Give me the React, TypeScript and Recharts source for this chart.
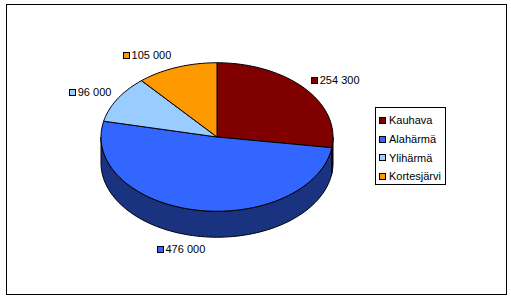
import { PieChart, Pie, Legend } from "recharts"

const regions = ["Kauhava", "Alahärmä", "Ylihärmä", "Kortesjärvi"]
const population = [254300, 476000, 96000, 105000]
const valueLabels = ["254 300", "476 000", "96 000", "105 000"]
const topColors = ["#800000", "#3366FF", "#99CCFF", "#FF9900"]
const sideColors = ["#400000", "#1A3380", "#4D6680", "#804D00"]

const data = regions.map((name, i) => ({
  name,
  value: population[i],
  fill: topColors[i],
  side: sideColors[i],
}))

const FONT = '"Liberation Sans", Arial, sans-serif'
// flattening of the pie and the height of its wall, relative to the radius
const TILT = 0.64
const DEPTH = 0.224
const RAD = Math.PI / 180

function rim(cx: number, cy: number, rx: number, ry: number, deg: number, dy = 0) {
  return [cx + rx * Math.cos(deg * RAD), cy - ry * Math.sin(deg * RAD) + dy]
}

function arc(cx: number, cy: number, rx: number, ry: number, from: number, to: number, dy = 0) {
  const n = Math.max(2, Math.ceil(Math.abs(to - from) / 2))
  const pts: number[][] = []
  for (let i = 0; i <= n; i++) pts.push(rim(cx, cy, rx, ry, from + ((to - from) * i) / n, dy))
  return pts
}

const toPath = (pts: number[][]) =>
  "M" + pts.map((p) => p[0].toFixed(2) + "," + p[1].toFixed(2)).join("L") + "Z"

function Slice3D(props: any) {
  const { cx, cy, outerRadius, startAngle, endAngle } = props
  const fill = props.fill ?? props.payload?.fill
  const side = props.side ?? props.payload?.side
  const rx = outerRadius
  const ry = outerRadius * TILT
  const d = outerRadius * DEPTH
  const hiA = Math.max(startAngle, endAngle)
  const loA = Math.min(startAngle, endAngle)

  // wall: only the part of the rim that faces the viewer (lower half)
  const walls: string[] = []
  for (let k = -2; k <= 1; k++) {
    const lo = Math.max(loA, -180 + 360 * k)
    const hi = Math.min(hiA, 360 * k)
    if (lo < hi) {
      walls.push(toPath([...arc(cx, cy, rx, ry, hi, lo), ...arc(cx, cy, rx, ry, lo, hi, d)]))
    }
  }
  const top = toPath([[cx, cy], ...arc(cx, cy, rx, ry, startAngle, endAngle)])

  return (
    <g>
      {walls.map((w, i) => (
        <path key={i} d={w} fill={side} stroke="#000" strokeWidth={1} strokeLinejoin="round" />
      ))}
      <path d={top} fill={fill} stroke="#000" strokeWidth={1} strokeLinejoin="round" />
    </g>
  )
}

function textWidth(s: string) {
  let w = 0
  for (const ch of s) w += ch === " " ? 3.06 : 6.12
  return w
}

function ValueLabel(props: any) {
  const { cx, cy, midAngle, outerRadius, index } = props
  const rx = outerRadius
  const ry = outerRadius * TILT
  const d = outerRadius * DEPTH
  const c = Math.cos(midAngle * RAD)
  const s = Math.sin(midAngle * RAD)
  const y = cy - (ry + 13) * s + (s < 0 ? d : 0)
  const text = valueLabels[index]
  const blockW = textWidth(text) + 9
  let left: number
  if (Math.abs(c) < 0.5) {
    // labels near the top or bottom are centred further out
    left = cx + rx * 1.74 * c - blockW / 2
  } else if (c >= 0) {
    left = cx + rx * c + 6
  } else {
    left = cx + rx * c - 6 - blockW
  }
  return (
    <g>
      <rect x={Math.round(left) + 0.5} y={Math.round(y - 3) + 0.5} width={6} height={6} fill={topColors[index]} stroke="#000" strokeWidth={1} />
      <text x={left + 9} y={y + 4} fontFamily={FONT} fontSize={11} fill="#000">
        {text}
      </text>
    </g>
  )
}

function LegendBox() {
  return (
    <div
      style={{
        boxSizing: "border-box",
        width: 71,
        height: 78,
        border: "1px solid #000",
        background: "#fff",
        padding: "3px 0 0 3px",
        fontFamily: FONT,
        fontSize: 11,
        color: "#000",
      }}
    >
      {regions.map((r, i) => (
        <div key={r} style={{ display: "flex", alignItems: "center", height: 18.7, whiteSpace: "nowrap" }}>
          <span
            style={{
              display: "inline-block",
              boxSizing: "border-box",
              width: 7,
              height: 7,
              border: "1px solid #000",
              background: topColors[i],
              marginRight: 3,
            }}
          />
          {r}
        </div>
      ))}
    </div>
  )
}

export default function App() {
  return (
    <div style={{ position: "absolute", left: 0, top: 0, width: 511, height: 298, background: "#fff" }}>
      <div
        style={{
          position: "absolute",
          left: 6,
          top: 4,
          width: 501,
          height: 291,
          boxSizing: "border-box",
          border: "1px solid #000",
        }}
      />
      <div style={{ position: "absolute", left: 0, top: 0 }}>
        <PieChart width={511} height={298} margin={{ top: 0, right: 0, bottom: 0, left: 0 }}>
          <Pie
            data={data}
            dataKey="value"
            nameKey="name"
            cx={217}
            cy={137}
            outerRadius={116}
            startAngle={90}
            endAngle={-270}
            stroke="#000"
            shape={Slice3D}
            activeShape={Slice3D}
            label={ValueLabel}
            labelLine={false}
            isAnimationActive={false}
          />
          <Legend
            layout="vertical"
            content={() => <LegendBox />}
            wrapperStyle={{ position: "absolute", left: 375, top: 107, width: 71, height: 78 }}
          />
        </PieChart>
      </div>
    </div>
  )
}
